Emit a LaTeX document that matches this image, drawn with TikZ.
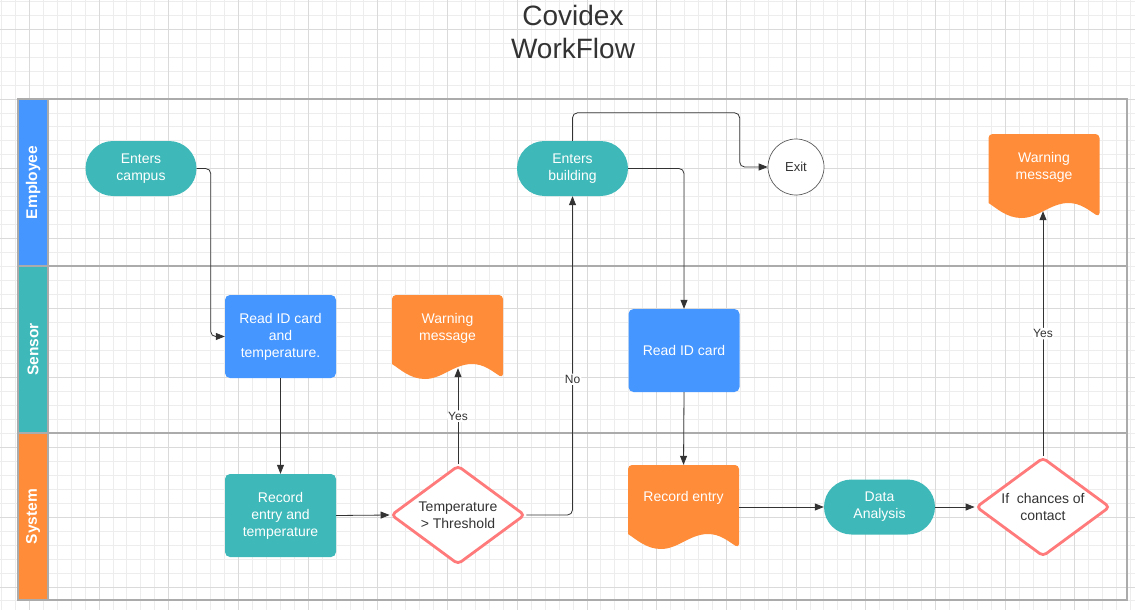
\documentclass[tikz,border=0pt]{standalone}
\usepackage{fontspec}
\setmainfont{Liberation Sans}
\usetikzlibrary{arrows.meta,shapes.geometric,calc}
\definecolor{cblue}{HTML}{4596FF}
\definecolor{cteal}{HTML}{3EB8B8}
\definecolor{corange}{HTML}{FF8C38}
\definecolor{cred}{HTML}{FF7A7A}
\definecolor{cline}{HTML}{333333}
\definecolor{cpool}{HTML}{ABABAB}
\definecolor{gridminor}{HTML}{EDEDED}
\definecolor{gridmajor}{HTML}{DADADA}
\newcommand\lifted[1]{\raisebox{8.5pt}[\height][\depth]{\begin{tabular}{@{}c@{}}#1\end{tabular}}}
% document shape (111 x 84) centred at (#1,#2), fill colour #3
\newcommand\docfill[3]{\fill[#3, rounded corners=4pt, shift={({#1-55.5},{#2-42})}]
      (0,69) -- (0,0) -- (111,0) -- (111,83) [sharp corners] .. controls (100,76) and (92,69) .. (80,69)
      .. controls (62,69) and (50,84) .. (33,84) .. controls (18,84) and (8,74) .. (0,69);}
\tikzset{
  every node/.style={font=\fontsize{14}{17}\selectfont, text=white, align=center},
  stadium/.style={fill=cteal, rounded corners=27.5pt, minimum width=111pt, minimum height=55pt, inner sep=0pt},
  proc/.style={fill=#1, rounded corners=5pt, minimum width=111pt, minimum height=83pt, inner sep=0pt},
  decision/.style={diamond, aspect=1.4, draw=cred, line width=2.8pt, fill=white, rounded corners=4pt, minimum width=134pt, minimum height=99pt, inner sep=0pt, text=cline},
  docnode/.style={minimum width=111pt, minimum height=84pt, inner sep=0pt},
  exitnode/.style={circle, draw=cline!80, line width=0.7pt, fill=white, minimum size=56pt, inner sep=0pt, text=cline, font=\fontsize{13}{15}\selectfont},
  flow/.style={draw=cline, line width=0.8pt, rounded corners=5pt, -{Triangle[length=9pt,width=7pt]}},
  elabel/.style={fill=white, text=cline, font=\fontsize{12}{14}\selectfont, inner sep=1.5pt},
  lanehead/.style={fill=#1, draw=cpool, line width=1.2pt, rotate=90, minimum width=167pt, minimum height=30pt, inner sep=0pt, font=\fontsize{15.5}{18}\selectfont\bfseries},
  pool/.style={draw=cpool, line width=1.2pt},
  titlestyle/.style={text=cline, font=\fontsize{28}{33}\selectfont}
}
\begin{document}
\begin{tikzpicture}[x=1pt,y=-1pt]
\useasboundingbox (0,0) rectangle (1135,610);
\fill[white] (0,0) rectangle (1135,610);
% grid
\foreach \i in {0,...,81} \draw[gridminor, line width=0.8pt] ({1.42+\i*13.94},0) -- ({1.42+\i*13.94},610);
\foreach \i in {0,...,44} \draw[gridminor, line width=0.8pt] (0,{1.42+\i*13.94}) -- (1135,{1.42+\i*13.94});
\foreach \i in {0,...,16} \draw[gridmajor, line width=0.8pt] ({29.3+\i*69.7},0) -- ({29.3+\i*69.7},610);
\foreach \i in {0,...,8} \draw[gridmajor, line width=0.8pt] (0,{29.3+\i*69.7}) -- (1135,{29.3+\i*69.7});
% title
\node[titlestyle] (title) at (573,31.5) {Covidex\\WorkFlow};
% pool
\draw[pool] (18,99) rectangle (1127,600);
\draw[pool] (18,266) -- (1127,266);
\draw[pool] (18,433) -- (1127,433);
\node[lanehead=cblue] (lane1) at (33,182.5) {Employee};
\node[lanehead=cteal] (lane2) at (33,349.5) {Sensor};
\node[lanehead=corange] (lane3) at (33,516.5) {System};
% document shapes (filled behind their nodes)
\docfill{1044}{176}{corange}
\docfill{447.5}{337}{corange}
\docfill{683.5}{507}{corange}
% nodes
\node[stadium] (campus) at (141,168.5) {Enters\\campus};
\node[stadium] (bldg) at (572.5,168.5) {Enters\\building};
\node[exitnode] (exit) at (796,167) {Exit};
\node[docnode] (warn2) at (1044,176) {\lifted{Warning\\message}};
\node[proc=cblue] (readidt) at (280.5,336.5) {Read ID card\\and\\temperature.};
\node[docnode] (warn1) at (447.5,337) {\lifted{Warning\\message}};
\node[proc=cblue] (readid) at (684,350.5) {Read ID card};
\node[proc=cteal] (recordt) at (280.5,515.5) {Record\\entry and\\temperature};
\node[decision] (temp) at (458,515) {Temperature\\> Threshold};
\node[decision] (contact) at (1043,507) {If~~chances of\\contact};
\node[docnode] (rec) at (683.5,507) {\lifted{Record entry}};
\node[stadium] (data) at (879.5,507) {Data\\Analysis};
% connectors
\draw[flow] (campus.east) -- ++(14,0) |- (readidt.west);
\draw[flow] (readidt.south) -- (recordt.north);
\draw[flow] (recordt.east) -- (temp.west);
\draw[flow] (temp.north) -- ($(temp.north |- warn1.south)+(0,-11)$) node[elabel, pos=0.5] {Yes};
\draw[flow] (temp.east) -| (bldg.south) node[elabel, pos=0.713] {No};
\draw[flow] (bldg.north) -- ++(0,-28) -| ([xshift=-28pt]exit.west) -- (exit.west);
\draw[flow] (bldg.east) -| (readid.north);
\draw[flow] (readid.south) -- (rec.north);
\draw[flow] (rec.east) -- (data.west);
\draw[flow] (data.east) -- (contact.west);
\draw[flow] (contact.north) -- ($(contact.north |- warn2.south)+(0,-7)$) node[elabel, pos=0.5] {Yes};
\end{tikzpicture}
\end{document}
